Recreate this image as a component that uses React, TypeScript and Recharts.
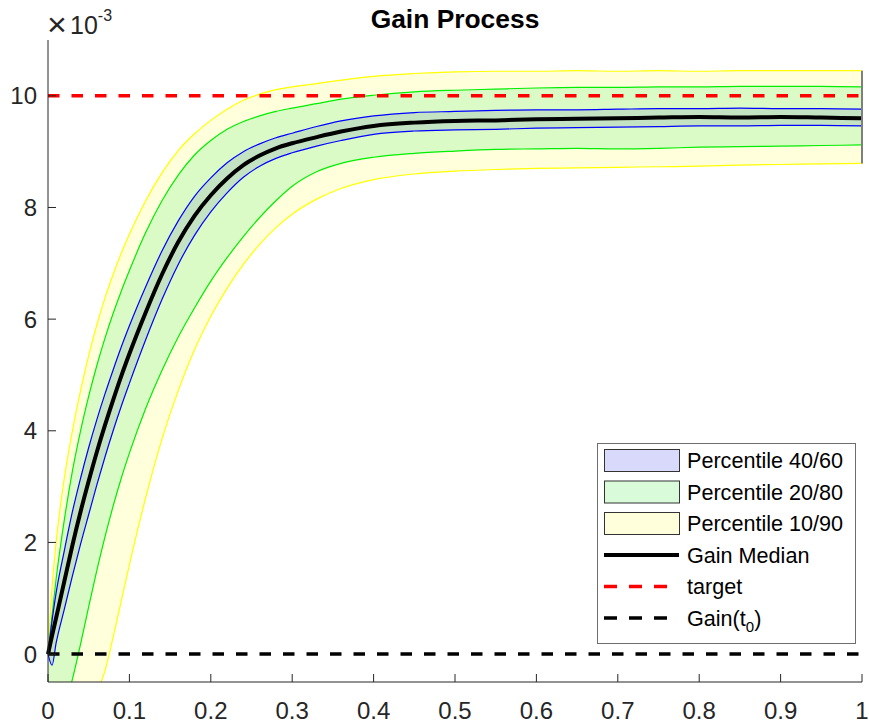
import { ComposedChart, Area, Line, XAxis, YAxis, ReferenceLine, Legend } from "recharts";

// time grid (x) and percentile curves of the gain (in units of 1e-3)
const T = [0, 0.005, 0.01, 0.02, 0.03, 0.04, 0.05, 0.06, 0.07, 0.08, 0.09, 0.1, 0.12, 0.14, 0.16, 0.18, 0.2, 0.22, 0.24, 0.26, 0.28, 0.3, 0.33, 0.36, 0.4, 0.45, 0.5, 0.55, 0.6, 0.65, 0.7, 0.75, 0.8, 0.85, 0.9, 0.95, 1];
const MEDIAN = [0, 0.33, 0.65, 1.3, 1.95, 2.55, 3.1, 3.62, 4.1, 4.55, 4.98, 5.38, 6.12, 6.8, 7.38, 7.85, 8.22, 8.52, 8.76, 8.93, 9.06, 9.15, 9.26, 9.36, 9.46, 9.52, 9.55, 9.56, 9.58, 9.59, 9.6, 9.61, 9.62, 9.61, 9.62, 9.61, 9.6];
const P40 = [0, -0.2, 0.2, 0.8, 1.4, 1.97, 2.5, 3.03, 3.53, 4.0, 4.44, 4.85, 5.63, 6.35, 6.98, 7.5, 7.92, 8.26, 8.54, 8.74, 8.88, 8.98, 9.1, 9.2, 9.31, 9.37, 9.39, 9.4, 9.42, 9.43, 9.44, 9.45, 9.46, 9.46, 9.47, 9.47, 9.46];
const P60 = [0, 0.6, 1.1, 1.85, 2.55, 3.15, 3.7, 4.2, 4.66, 5.09, 5.5, 5.88, 6.58, 7.22, 7.76, 8.2, 8.53, 8.8, 9.0, 9.14, 9.25, 9.33, 9.45, 9.55, 9.64, 9.7, 9.72, 9.74, 9.75, 9.75, 9.76, 9.77, 9.77, 9.78, 9.77, 9.77, 9.76];
const P20 = [-2.0, -1.75, -1.5, -1.0, -0.45, 0.18, 0.85, 1.5, 2.1, 2.65, 3.15, 3.6, 4.4, 5.08, 5.68, 6.2, 6.68, 7.1, 7.48, 7.82, 8.12, 8.38, 8.64, 8.79, 8.9, 8.97, 9.01, 9.04, 9.05, 9.06, 9.05, 9.06, 9.08, 9.09, 9.1, 9.11, 9.12];
const P80 = [0, 0.7, 1.35, 2.4, 3.28, 4.0, 4.62, 5.17, 5.66, 6.1, 6.5, 6.87, 7.55, 8.12, 8.58, 8.94, 9.2, 9.4, 9.54, 9.64, 9.72, 9.78, 9.86, 9.94, 10.01, 10.07, 10.1, 10.12, 10.14, 10.15, 10.15, 10.16, 10.16, 10.17, 10.17, 10.17, 10.16];
const P10 = [-4, -3.6, -3.2, -2.5, -1.9, -1.5, -1.1, -0.7, -0.3, 0.3, 0.95, 1.6, 2.8, 3.85, 4.72, 5.45, 6.05, 6.55, 6.98, 7.34, 7.64, 7.88, 8.15, 8.34, 8.5, 8.6, 8.65, 8.68, 8.7, 8.71, 8.72, 8.73, 8.74, 8.76, 8.77, 8.78, 8.79];
const P90 = [0, 1.2, 2.0, 3.15, 4.0, 4.72, 5.35, 5.9, 6.38, 6.8, 7.18, 7.52, 8.12, 8.62, 9.02, 9.32, 9.56, 9.76, 9.92, 10.03, 10.11, 10.16, 10.22, 10.28, 10.35, 10.4, 10.43, 10.44, 10.44, 10.45, 10.44, 10.45, 10.44, 10.45, 10.45, 10.45, 10.45];

const TARGET = 10;
const GAIN_T0 = 0;

const X_TICKS = [0, 0.1, 0.2, 0.3, 0.4, 0.5, 0.6, 0.7, 0.8, 0.9, 1];
const Y_TICKS = [0, 2, 4, 6, 8, 10];

const data = T.map((t, i) => ({
  t,
  band1090: [P10[i], P90[i]],
  band2080: [P20[i], P80[i]],
  band4060: [P40[i], P60[i]],
  median: MEDIAN[i],
}));

const FONT = "'Liberation Sans', Arial, Helvetica, sans-serif";
const AXIS = "#262626";

function XTick(props: any) {
  const { x, y, payload } = props;
  return (
    <g>
      <line x1={x} y1={y} x2={x} y2={y - 8} stroke={AXIS} strokeWidth={1} />
      <text x={x} y={y + 37} textAnchor="middle" fontSize={24} fill={AXIS} fontFamily={FONT}>
        {String(payload.value)}
      </text>
    </g>
  );
}

function YTick(props: any) {
  const { x, y, payload } = props;
  return (
    <g>
      <line x1={x} y1={y} x2={x + 8} y2={y} stroke={AXIS} strokeWidth={1} />
      <text x={x - 11} y={y + 8.6} textAnchor="end" fontSize={24} fill={AXIS} fontFamily={FONT}>
        {String(payload.value)}
      </text>
    </g>
  );
}

function LegendBox() {
  const rows = [
    { kind: "patch", fill: "#d9d9fb", label: "Percentile 40/60" },
    { kind: "patch", fill: "#d9fbd9", label: "Percentile 20/80" },
    { kind: "patch", fill: "#ffffdc", label: "Percentile 10/90" },
    { kind: "line", color: "#000", label: "Gain Median" },
    { kind: "dash", color: "#ff0000", label: "target" },
    { kind: "dash", color: "#000", label: "Gain(t", sub: "0" },
  ];
  return (
    <svg width={259} height={201} style={{ display: "block" }}>
      <rect x={0.5} y={0.5} width={258} height={200} fill="#fff" stroke="#6e6e6e" />
      {rows.map((r, i) => {
        const cy = 17.5 + 31.5 * i;
        return (
          <g key={i}>
            {r.kind === "patch" && (
              <rect x={7.5} y={cy - 11} width={75} height={22} fill={r.fill} stroke="#333" strokeWidth={1} />
            )}
            {r.kind === "line" && <line x1={7} x2={82} y1={cy} y2={cy} stroke={r.color} strokeWidth={4} />}
            {r.kind === "dash" && (
              <line x1={7} x2={82} y1={cy} y2={cy} stroke={r.color} strokeWidth={3.5} strokeDasharray="13 12" />
            )}
            <text x={90} y={cy + 7.7} fontSize={21.6} fill="#000" fontFamily={FONT}>
              {r.label}
              {r.sub && (
                <>
                  <tspan dy={6} fontSize={15}>{r.sub}</tspan>
                  <tspan dy={-6}>)</tspan>
                </>
              )}
            </text>
          </g>
        );
      })}
    </svg>
  );
}

export default function App() {
  const last = T.length - 1;
  return (
    <div style={{ position: "absolute", left: 0, top: 0, width: 869, height: 727, background: "#fff" }}>
      <ComposedChart width={869} height={727} data={data} margin={{ top: 40, right: 7, bottom: 0, left: 0 }}>
        <XAxis
          dataKey="t"
          type="number"
          domain={[0, 1]}
          ticks={X_TICKS}
          interval={0}
          height={45}
          tickSize={0}
          tickMargin={0}
          tickLine={false}
          axisLine={{ stroke: AXIS }}
          tick={XTick}
        />
        <YAxis
          type="number"
          domain={[-0.5, 11]}
          allowDataOverflow
          ticks={Y_TICKS}
          interval={0}
          width={48}
          tickSize={0}
          tickMargin={0}
          tickLine={false}
          axisLine={{ stroke: AXIS }}
          tick={YTick}
        />
        <Area
          dataKey="band1090"
          type="monotone"
          fill="#ffffdc"
          fillOpacity={1}
          stroke="#ffff00"
          strokeWidth={1.2}
          isAnimationActive={false}
          activeDot={false}
        />
        <Area
          dataKey="band2080"
          type="monotone"
          fill="#dbfbc6"
          fillOpacity={1}
          stroke="#00ee00"
          strokeWidth={1.2}
          isAnimationActive={false}
          activeDot={false}
        />
        <Area
          dataKey="band4060"
          type="monotone"
          fill="#c3e3c3"
          fillOpacity={1}
          stroke="#0000ff"
          strokeWidth={1.2}
          isAnimationActive={false}
          activeDot={false}
        />
        <Line
          dataKey="median"
          type="monotone"
          stroke="#000"
          strokeWidth={4}
          dot={false}
          activeDot={false}
          isAnimationActive={false}
        />
        <ReferenceLine
          segment={[
            { x: T[last], y: P10[last] },
            { x: T[last], y: P90[last] },
          ]}
          stroke="#7f7f7f"
          strokeWidth={2}
        />
        <ReferenceLine y={TARGET} stroke="#ff0000" strokeWidth={3.5} strokeDasharray="11.5 12" />
        <ReferenceLine y={GAIN_T0} stroke="#000" strokeWidth={3.5} strokeDasharray="11.5 12" />
        <Legend
          layout="vertical"
          align="center"
          verticalAlign="middle"
          content={() => <LegendBox />}
          wrapperStyle={{ left: 597, top: 443, width: 259, height: 201 }}
        />
      </ComposedChart>
      <svg
        width={869}
        height={60}
        style={{ position: "absolute", left: 0, top: 0, pointerEvents: "none" }}
      >
        <text x={455} y={28} textAnchor="middle" fontSize={26.4} fontWeight="bold" fill="#000" fontFamily={FONT}>
          Gain Process
        </text>
        <text x={47} y={36} fontSize={34} fill={AXIS} fontFamily={FONT}>
          ×
        </text>
        <text x={70} y={34} fontSize={25} fill={AXIS} fontFamily={FONT}>
          10
          <tspan dy={-13} fontSize={16}>-3</tspan>
        </text>
      </svg>
    </div>
  );
}
